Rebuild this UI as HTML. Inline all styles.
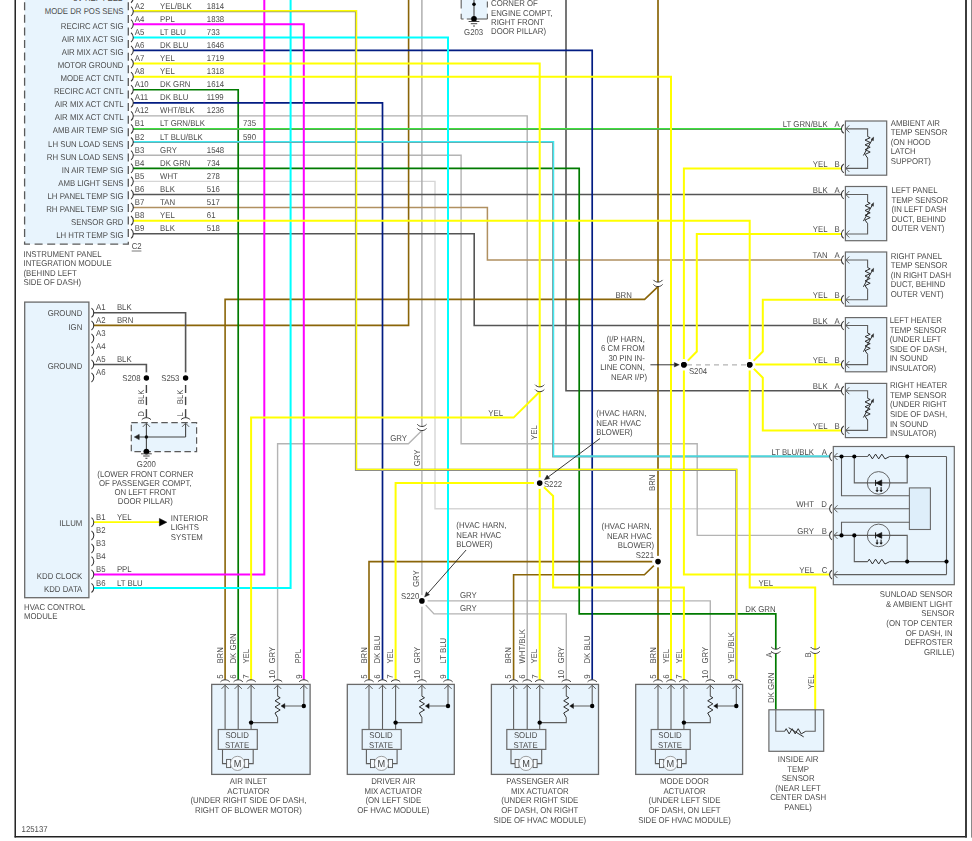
<!DOCTYPE html>
<html><head><meta charset="utf-8"><title>HVAC wiring</title>
<style>
html,body{margin:0;padding:0;background:#fff;}
body{width:972px;height:841px;overflow:hidden;}
svg{display:block;}
text{font-family:"Liberation Sans",sans-serif;}
</style></head>
<body>
<svg width="972" height="841" viewBox="0 0 972 841">
<rect x="0" y="0" width="972" height="841" fill="#fff"/>
<g style="will-change:transform" text-rendering="geometricPrecision">
<line x1="15.2" y1="0" x2="15.2" y2="837.6" stroke="#000" stroke-width="1.3" />
<line x1="14.6" y1="836.8" x2="966.9" y2="836.8" stroke="#222" stroke-width="1.6" />
<line x1="966" y1="0" x2="966" y2="837.6" stroke="#333" stroke-width="1.9" />
<line x1="971.5" y1="0" x2="971.5" y2="837.6" stroke="#8a8a8a" stroke-width="1" />
<rect x="24.6" y="-20" width="103.7" height="264.2" fill="#e8f4fd" stroke="#5a5a5a" stroke-width="1.3" stroke-dasharray="8 4.6"/>
<text transform="translate(123.5,1.27) scale(1,1.09)" text-anchor="end" font-size="7.8" fill="#4a4a4a" >5V REF FEED</text>
<path d="M131,-6.49 C134.07,-4.19 134.07,0.41 131,2.71" fill="none" stroke="#333333" stroke-width="1.05" />
<text transform="translate(123.5,14.06) scale(1,1.09)" text-anchor="end" font-size="7.8" fill="#4a4a4a" >MODE DR POS SENS</text>
<text transform="translate(134.8,8.66) scale(1,1.09)" font-size="7.8" fill="#4a4a4a" >A2</text>
<text transform="translate(160.1,8.66) scale(1,1.09)" font-size="7.8" fill="#4a4a4a" >YEL/BLK</text>
<text transform="translate(206.8,8.66) scale(1,1.09)" font-size="7.8" fill="#4a4a4a" >1814</text>
<text transform="translate(123.5,28.75) scale(1,1.09)" text-anchor="end" font-size="7.8" fill="#4a4a4a" >RECIRC ACT SIG</text>
<text transform="translate(134.8,21.75) scale(1,1.09)" font-size="7.8" fill="#4a4a4a" >A4</text>
<text transform="translate(160.1,21.75) scale(1,1.09)" font-size="7.8" fill="#4a4a4a" >PPL</text>
<text transform="translate(206.8,21.75) scale(1,1.09)" font-size="7.8" fill="#4a4a4a" >1838</text>
<text transform="translate(123.5,41.84) scale(1,1.09)" text-anchor="end" font-size="7.8" fill="#4a4a4a" >AIR MIX ACT SIG</text>
<text transform="translate(134.8,34.84) scale(1,1.09)" font-size="7.8" fill="#4a4a4a" >A5</text>
<text transform="translate(160.1,34.84) scale(1,1.09)" font-size="7.8" fill="#4a4a4a" >LT BLU</text>
<text transform="translate(206.8,34.84) scale(1,1.09)" font-size="7.8" fill="#4a4a4a" >733</text>
<text transform="translate(123.5,54.93) scale(1,1.09)" text-anchor="end" font-size="7.8" fill="#4a4a4a" >AIR MIX ACT SIG</text>
<text transform="translate(134.8,47.93) scale(1,1.09)" font-size="7.8" fill="#4a4a4a" >A6</text>
<text transform="translate(160.1,47.93) scale(1,1.09)" font-size="7.8" fill="#4a4a4a" >DK BLU</text>
<text transform="translate(206.8,47.93) scale(1,1.09)" font-size="7.8" fill="#4a4a4a" >1646</text>
<text transform="translate(123.5,68.02) scale(1,1.09)" text-anchor="end" font-size="7.8" fill="#4a4a4a" >MOTOR GROUND</text>
<text transform="translate(134.8,61.02) scale(1,1.09)" font-size="7.8" fill="#4a4a4a" >A7</text>
<text transform="translate(160.1,61.02) scale(1,1.09)" font-size="7.8" fill="#4a4a4a" >YEL</text>
<text transform="translate(206.8,61.02) scale(1,1.09)" font-size="7.8" fill="#4a4a4a" >1719</text>
<text transform="translate(123.5,81.11) scale(1,1.09)" text-anchor="end" font-size="7.8" fill="#4a4a4a" >MODE ACT CNTL</text>
<text transform="translate(134.8,74.11) scale(1,1.09)" font-size="7.8" fill="#4a4a4a" >A8</text>
<text transform="translate(160.1,74.11) scale(1,1.09)" font-size="7.8" fill="#4a4a4a" >YEL</text>
<text transform="translate(206.8,74.11) scale(1,1.09)" font-size="7.8" fill="#4a4a4a" >1318</text>
<text transform="translate(123.5,94.2) scale(1,1.09)" text-anchor="end" font-size="7.8" fill="#4a4a4a" >RECIRC ACT CNTL</text>
<text transform="translate(134.8,87.2) scale(1,1.09)" font-size="7.8" fill="#4a4a4a" >A10</text>
<text transform="translate(160.1,87.2) scale(1,1.09)" font-size="7.8" fill="#4a4a4a" >DK GRN</text>
<text transform="translate(206.8,87.2) scale(1,1.09)" font-size="7.8" fill="#4a4a4a" >1614</text>
<text transform="translate(123.5,107.29) scale(1,1.09)" text-anchor="end" font-size="7.8" fill="#4a4a4a" >AIR MIX ACT CNTL</text>
<text transform="translate(134.8,100.29) scale(1,1.09)" font-size="7.8" fill="#4a4a4a" >A11</text>
<text transform="translate(160.1,100.29) scale(1,1.09)" font-size="7.8" fill="#4a4a4a" >DK BLU</text>
<text transform="translate(206.8,100.29) scale(1,1.09)" font-size="7.8" fill="#4a4a4a" >1199</text>
<text transform="translate(123.5,120.38) scale(1,1.09)" text-anchor="end" font-size="7.8" fill="#4a4a4a" >AIR MIX ACT CNTL</text>
<text transform="translate(134.8,113.38) scale(1,1.09)" font-size="7.8" fill="#4a4a4a" >A12</text>
<text transform="translate(160.1,113.38) scale(1,1.09)" font-size="7.8" fill="#4a4a4a" >WHT/BLK</text>
<text transform="translate(206.8,113.38) scale(1,1.09)" font-size="7.8" fill="#4a4a4a" >1236</text>
<text transform="translate(123.5,133.47) scale(1,1.09)" text-anchor="end" font-size="7.8" fill="#4a4a4a" >AMB AIR TEMP SIG</text>
<text transform="translate(134.8,126.47) scale(1,1.09)" font-size="7.8" fill="#4a4a4a" >B1</text>
<text transform="translate(160.1,126.47) scale(1,1.09)" font-size="7.8" fill="#4a4a4a" >LT GRN/BLK</text>
<text transform="translate(243,126.47) scale(1,1.09)" font-size="7.8" fill="#4a4a4a" >735</text>
<text transform="translate(123.5,146.56) scale(1,1.09)" text-anchor="end" font-size="7.8" fill="#4a4a4a" >LH SUN LOAD SENS</text>
<text transform="translate(134.8,139.56) scale(1,1.09)" font-size="7.8" fill="#4a4a4a" >B2</text>
<text transform="translate(160.1,139.56) scale(1,1.09)" font-size="7.8" fill="#4a4a4a" >LT BLU/BLK</text>
<text transform="translate(243,139.56) scale(1,1.09)" font-size="7.8" fill="#4a4a4a" >590</text>
<text transform="translate(123.5,159.65) scale(1,1.09)" text-anchor="end" font-size="7.8" fill="#4a4a4a" >RH SUN LOAD SENS</text>
<text transform="translate(134.8,152.65) scale(1,1.09)" font-size="7.8" fill="#4a4a4a" >B3</text>
<text transform="translate(160.1,152.65) scale(1,1.09)" font-size="7.8" fill="#4a4a4a" >GRY</text>
<text transform="translate(206.8,152.65) scale(1,1.09)" font-size="7.8" fill="#4a4a4a" >1548</text>
<text transform="translate(123.5,172.74) scale(1,1.09)" text-anchor="end" font-size="7.8" fill="#4a4a4a" >IN AIR TEMP SIG</text>
<text transform="translate(134.8,165.74) scale(1,1.09)" font-size="7.8" fill="#4a4a4a" >B4</text>
<text transform="translate(160.1,165.74) scale(1,1.09)" font-size="7.8" fill="#4a4a4a" >DK GRN</text>
<text transform="translate(206.8,165.74) scale(1,1.09)" font-size="7.8" fill="#4a4a4a" >734</text>
<text transform="translate(123.5,185.83) scale(1,1.09)" text-anchor="end" font-size="7.8" fill="#4a4a4a" >AMB LIGHT SENS</text>
<text transform="translate(134.8,178.83) scale(1,1.09)" font-size="7.8" fill="#4a4a4a" >B5</text>
<text transform="translate(160.1,178.83) scale(1,1.09)" font-size="7.8" fill="#4a4a4a" >WHT</text>
<text transform="translate(206.8,178.83) scale(1,1.09)" font-size="7.8" fill="#4a4a4a" >278</text>
<text transform="translate(123.5,198.92) scale(1,1.09)" text-anchor="end" font-size="7.8" fill="#4a4a4a" >LH PANEL TEMP SIG</text>
<text transform="translate(134.8,191.92) scale(1,1.09)" font-size="7.8" fill="#4a4a4a" >B6</text>
<text transform="translate(160.1,191.92) scale(1,1.09)" font-size="7.8" fill="#4a4a4a" >BLK</text>
<text transform="translate(206.8,191.92) scale(1,1.09)" font-size="7.8" fill="#4a4a4a" >516</text>
<text transform="translate(123.5,212.01) scale(1,1.09)" text-anchor="end" font-size="7.8" fill="#4a4a4a" >RH PANEL TEMP SIG</text>
<text transform="translate(134.8,205.01) scale(1,1.09)" font-size="7.8" fill="#4a4a4a" >B7</text>
<text transform="translate(160.1,205.01) scale(1,1.09)" font-size="7.8" fill="#4a4a4a" >TAN</text>
<text transform="translate(206.8,205.01) scale(1,1.09)" font-size="7.8" fill="#4a4a4a" >517</text>
<text transform="translate(123.5,225.1) scale(1,1.09)" text-anchor="end" font-size="7.8" fill="#4a4a4a" >SENSOR GRD</text>
<text transform="translate(134.8,218.1) scale(1,1.09)" font-size="7.8" fill="#4a4a4a" >B8</text>
<text transform="translate(160.1,218.1) scale(1,1.09)" font-size="7.8" fill="#4a4a4a" >YEL</text>
<text transform="translate(206.8,218.1) scale(1,1.09)" font-size="7.8" fill="#4a4a4a" >61</text>
<text transform="translate(123.5,238.19) scale(1,1.09)" text-anchor="end" font-size="7.8" fill="#4a4a4a" >LH HTR TEMP SIG</text>
<text transform="translate(134.8,231.19) scale(1,1.09)" font-size="7.8" fill="#4a4a4a" >B9</text>
<text transform="translate(160.1,231.19) scale(1,1.09)" font-size="7.8" fill="#4a4a4a" >BLK</text>
<text transform="translate(206.8,231.19) scale(1,1.09)" font-size="7.8" fill="#4a4a4a" >518</text>
<text transform="translate(23.5,256.51) scale(1,1.09)" font-size="7.8" fill="#4a4a4a" >INSTRUMENT PANEL</text>
<text transform="translate(23.5,266.11) scale(1,1.09)" font-size="7.8" fill="#4a4a4a" >INTEGRATION MODULE</text>
<text transform="translate(23.5,275.71) scale(1,1.09)" font-size="7.8" fill="#4a4a4a" >(BEHIND LEFT</text>
<text transform="translate(23.5,285.31) scale(1,1.09)" font-size="7.8" fill="#4a4a4a" >SIDE OF DASH)</text>
<text transform="translate(131.7,249.16) scale(1,1.09)" font-size="7.8" fill="#4a4a4a" >C2</text>
<line x1="131.7" y1="251" x2="141.4" y2="251" stroke="#555" stroke-width="0.8" />
<rect x="24.7" y="302.1" width="64.2" height="295.6" fill="#e8f4fd" stroke="#6a6a6a" stroke-width="1.3" />
<text transform="translate(96,310.36) scale(1,1.09)" font-size="7.8" fill="#4a4a4a" >A1</text>
<text transform="translate(96,323.06) scale(1,1.09)" font-size="7.8" fill="#4a4a4a" >A2</text>
<text transform="translate(96,336.06) scale(1,1.09)" font-size="7.8" fill="#4a4a4a" >A3</text>
<text transform="translate(96,348.86) scale(1,1.09)" font-size="7.8" fill="#4a4a4a" >A4</text>
<text transform="translate(96,362.16) scale(1,1.09)" font-size="7.8" fill="#4a4a4a" >A5</text>
<text transform="translate(96,375.06) scale(1,1.09)" font-size="7.8" fill="#4a4a4a" >A6</text>
<text transform="translate(96,519.86) scale(1,1.09)" font-size="7.8" fill="#4a4a4a" >B1</text>
<text transform="translate(96,533.06) scale(1,1.09)" font-size="7.8" fill="#4a4a4a" >B2</text>
<text transform="translate(96,546.06) scale(1,1.09)" font-size="7.8" fill="#4a4a4a" >B3</text>
<text transform="translate(96,558.86) scale(1,1.09)" font-size="7.8" fill="#4a4a4a" >B4</text>
<text transform="translate(96,572.16) scale(1,1.09)" font-size="7.8" fill="#4a4a4a" >B5</text>
<text transform="translate(96,585.56) scale(1,1.09)" font-size="7.8" fill="#4a4a4a" >B6</text>
<text transform="translate(82.3,315.96) scale(1,1.09)" text-anchor="end" font-size="7.8" fill="#4a4a4a" >GROUND</text>
<text transform="translate(82.3,329.66) scale(1,1.09)" text-anchor="end" font-size="7.8" fill="#4a4a4a" >IGN</text>
<text transform="translate(82.3,368.76) scale(1,1.09)" text-anchor="end" font-size="7.8" fill="#4a4a4a" >GROUND</text>
<text transform="translate(82.3,526.46) scale(1,1.09)" text-anchor="end" font-size="7.8" fill="#4a4a4a" >ILLUM</text>
<text transform="translate(82.3,578.76) scale(1,1.09)" text-anchor="end" font-size="7.8" fill="#4a4a4a" >KDD CLOCK</text>
<text transform="translate(82.3,592.16) scale(1,1.09)" text-anchor="end" font-size="7.8" fill="#4a4a4a" >KDD DATA</text>
<text transform="translate(116.9,310.36) scale(1,1.09)" font-size="7.8" fill="#4a4a4a" >BLK</text>
<text transform="translate(116.9,323.06) scale(1,1.09)" font-size="7.8" fill="#4a4a4a" >BRN</text>
<text transform="translate(116.9,362.16) scale(1,1.09)" font-size="7.8" fill="#4a4a4a" >BLK</text>
<text transform="translate(116.9,519.86) scale(1,1.09)" font-size="7.8" fill="#4a4a4a" >YEL</text>
<text transform="translate(116.9,572.16) scale(1,1.09)" font-size="7.8" fill="#4a4a4a" >PPL</text>
<text transform="translate(116.9,585.56) scale(1,1.09)" font-size="7.8" fill="#4a4a4a" >LT BLU</text>
<text transform="translate(24,609.51) scale(1,1.09)" font-size="7.8" fill="#4a4a4a" >HVAC CONTROL</text>
<text transform="translate(24,618.91) scale(1,1.09)" font-size="7.8" fill="#4a4a4a" >MODULE</text>
<rect x="461.2" y="-20" width="26.2" height="39" fill="#e8f4fd" stroke="none" stroke-width="0" />
<line x1="461.2" y1="0" x2="461.2" y2="8.6" stroke="#6a6a6a" stroke-width="1.2" />
<line x1="461.2" y1="13.8" x2="461.2" y2="19" stroke="#6a6a6a" stroke-width="1.2" />
<line x1="461.2" y1="19" x2="463.6" y2="19" stroke="#6a6a6a" stroke-width="1.2" />
<line x1="466.8" y1="19" x2="471" y2="19" stroke="#6a6a6a" stroke-width="1.2" />
<line x1="477" y1="19" x2="487.4" y2="19" stroke="#6a6a6a" stroke-width="1.2" />
<line x1="487.4" y1="19" x2="487.4" y2="13.8" stroke="#6a6a6a" stroke-width="1.2" />
<line x1="487.4" y1="7.6" x2="487.4" y2="1.4" stroke="#6a6a6a" stroke-width="1.2" />
<line x1="474" y1="0" x2="474" y2="18.8" stroke="#444" stroke-width="1.1" />
<circle cx="474" cy="4.3" r="1.8" fill="#000"/>
<circle cx="474" cy="18.8" r="2.9" fill="#000"/>
<line x1="468.6" y1="21.5" x2="479.4" y2="21.5" stroke="#333333" stroke-width="0.9" />
<line x1="470.8" y1="23.7" x2="477.2" y2="23.7" stroke="#333333" stroke-width="0.9" />
<line x1="473" y1="26" x2="475" y2="26" stroke="#333333" stroke-width="0.9" />
<text transform="translate(473.6,34.96) scale(1,1.09)" text-anchor="middle" font-size="7.8" fill="#4a4a4a" >G203</text>
<text transform="translate(491,6.21) scale(1,1.09)" font-size="7.8" fill="#4a4a4a" >CORNER OF</text>
<text transform="translate(491,15.51) scale(1,1.09)" font-size="7.8" fill="#4a4a4a" >ENGINE COMPT,</text>
<text transform="translate(491,24.81) scale(1,1.09)" font-size="7.8" fill="#4a4a4a" >RIGHT FRONT</text>
<text transform="translate(491,34.11) scale(1,1.09)" font-size="7.8" fill="#4a4a4a" >DOOR PILLAR)</text>
<polyline points="133,181.37 435,181.37 435,508.8 829.6,508.8" fill="none" stroke="#d6d6d6" stroke-width="1.4" stroke-linejoin="miter" stroke-linecap="butt" />
<polyline points="133,155.19 461.1,155.19 461.1,443.7 697.2,443.7 697.2,535.4 829.6,535.4" fill="none" stroke="#b4b4b4" stroke-width="1.4" stroke-linejoin="miter" stroke-linecap="butt" />
<polyline points="421.9,0 421.9,426.5" fill="none" stroke="#a9a9a9" stroke-width="1.4" stroke-linejoin="miter" stroke-linecap="butt" />
<polyline points="421.9,430.6 421.9,679.7" fill="none" stroke="#b4b4b4" stroke-width="1.4" stroke-linejoin="miter" stroke-linecap="butt" />
<polyline points="421.9,430.6 408.4,443.7 277.6,443.7 277.6,679.7" fill="none" stroke="#b4b4b4" stroke-width="1.4" stroke-linejoin="miter" stroke-linecap="butt" />
<polyline points="421.9,600.9 710.3,600.9 710.3,679.7" fill="none" stroke="#b4b4b4" stroke-width="1.4" stroke-linejoin="miter" stroke-linecap="butt" />
<polyline points="421.9,600.9 434,613.9 566.3,613.9 566.3,679.7" fill="none" stroke="#b4b4b4" stroke-width="1.4" stroke-linejoin="miter" stroke-linecap="butt" />
<polyline points="133,115.92 527.2,115.92 527.2,679.7" fill="none" stroke="#b0b0b0" stroke-width="1.4" stroke-linejoin="miter" stroke-linecap="butt" />
<polyline points="133,194.46 841.4,194.46" fill="none" stroke="#555555" stroke-width="1.6" stroke-linejoin="miter" stroke-linecap="butt" />
<polyline points="133,233.73 474.2,233.73 474.2,325.5 841.4,325.5" fill="none" stroke="#555555" stroke-width="1.6" stroke-linejoin="miter" stroke-linecap="butt" />
<polyline points="566,0 566,390.7 841.4,390.7" fill="none" stroke="#555555" stroke-width="1.6" stroke-linejoin="miter" stroke-linecap="butt" />
<polyline points="133,207.55 487.4,207.55 487.4,260 841.4,260" fill="none" stroke="#b09060" stroke-width="1.5" stroke-linejoin="miter" stroke-linecap="butt" />
<polyline points="93.5,325.4 408.6,325.4 408.6,0" fill="none" stroke="#8a6508" stroke-width="1.6" stroke-linejoin="miter" stroke-linecap="butt" />
<polyline points="658,0 658,282.1" fill="none" stroke="#8a6508" stroke-width="1.7" stroke-linejoin="miter" stroke-linecap="butt" />
<polyline points="658,286.6 658,679.7" fill="none" stroke="#8a6508" stroke-width="1.7" stroke-linejoin="miter" stroke-linecap="butt" />
<polyline points="658,286.6 644.6,299.4 225.1,299.4 225.1,679.7" fill="none" stroke="#8a6508" stroke-width="1.6" stroke-linejoin="miter" stroke-linecap="butt" />
<polyline points="658,561.6 369,561.6 369,679.7" fill="none" stroke="#8a6508" stroke-width="1.6" stroke-linejoin="miter" stroke-linecap="butt" />
<polyline points="658,561.6 644.4,574.8 513.6,574.8 513.6,679.7" fill="none" stroke="#8a6508" stroke-width="1.6" stroke-linejoin="miter" stroke-linecap="butt" />
<polyline points="133,89.74 238.2,89.74 238.2,679.7" fill="none" stroke="#007a00" stroke-width="1.7" stroke-linejoin="miter" stroke-linecap="butt" />
<polyline points="133,168.28 579.2,168.28 579.2,613.8 775.8,613.8 775.8,649.2" fill="none" stroke="#007a00" stroke-width="1.7" stroke-linejoin="miter" stroke-linecap="butt" />
<polyline points="775.8,653.5 775.8,709.8" fill="none" stroke="#007a00" stroke-width="1.7" stroke-linejoin="miter" stroke-linecap="butt" />
<polyline points="133,129.01 841.4,129.01" fill="none" stroke="#5f8f5f" stroke-width="2"/>
<polyline points="133,129.01 841.4,129.01" fill="none" stroke="#3ee03e" stroke-width="1.2" transform="translate(0.45,-0.45)"/>
<polyline points="133,50.47 592.2,50.47 592.2,679.7" fill="none" stroke="#021c82" stroke-width="1.7" stroke-linejoin="miter" stroke-linecap="butt" />
<polyline points="133,102.83 382.5,102.83 382.5,679.7" fill="none" stroke="#021c82" stroke-width="1.7" stroke-linejoin="miter" stroke-linecap="butt" />
<polyline points="133,37.38 448,37.38 448,679.7" fill="none" stroke="#00ffff" stroke-width="2" stroke-linejoin="miter" stroke-linecap="butt" />
<polyline points="93.5,587.9 290.6,587.9 290.6,0" fill="none" stroke="#00ffff" stroke-width="2" stroke-linejoin="miter" stroke-linecap="butt" />
<polyline points="133,142.1 553.1,142.1 553.1,456.5 829.6,456.5" fill="none" stroke="#6f9fa3" stroke-width="2"/>
<polyline points="133,142.1 553.1,142.1 553.1,456.5 829.6,456.5" fill="none" stroke="#40e8f0" stroke-width="1.2" transform="translate(0.45,-0.45)"/>
<polyline points="133,24.29 303.8,24.29 303.8,679.7" fill="none" stroke="#ff00ff" stroke-width="2" stroke-linejoin="miter" stroke-linecap="butt" />
<polyline points="93.5,574.5 264.3,574.5 264.3,0" fill="none" stroke="#ff00ff" stroke-width="2" stroke-linejoin="miter" stroke-linecap="butt" />
<polyline points="133,76.65 671,76.65 671,679.7" fill="none" stroke="#ffff00" stroke-width="2" stroke-linejoin="miter" stroke-linecap="butt" />
<polyline points="133,63.56 539.7,63.56 539.7,386.9" fill="none" stroke="#ffff00" stroke-width="2" stroke-linejoin="miter" stroke-linecap="butt" />
<polyline points="539.7,391.7 539.7,679.7" fill="none" stroke="#ffff00" stroke-width="2" stroke-linejoin="miter" stroke-linecap="butt" />
<polyline points="539.7,391.7 513.6,417.6 251.1,417.6 251.1,679.7" fill="none" stroke="#ffff00" stroke-width="2" stroke-linejoin="miter" stroke-linecap="butt" />
<polyline points="539.7,483.1 395.6,483.1 395.6,679.7" fill="none" stroke="#ffff00" stroke-width="2" stroke-linejoin="miter" stroke-linecap="butt" />
<polyline points="539.7,483.1 553.1,496 553.1,587.6 683.9,587.6 683.9,679.7" fill="none" stroke="#ffff00" stroke-width="2" stroke-linejoin="miter" stroke-linecap="butt" />
<polyline points="133,220.64 749.7,220.64 749.7,587.6 815.2,587.6 815.2,649.2" fill="none" stroke="#ffff00" stroke-width="2" stroke-linejoin="miter" stroke-linecap="butt" />
<polyline points="815.2,653.5 815.2,709.8" fill="none" stroke="#ffff00" stroke-width="2" stroke-linejoin="miter" stroke-linecap="butt" />
<polyline points="841.4,168.4 683.9,168.4 683.9,574.6 829.6,574.6" fill="none" stroke="#ffff00" stroke-width="2" stroke-linejoin="miter" stroke-linecap="butt" />
<polyline points="841.4,234 696.8,234 696.8,351.5 683.9,364.6" fill="none" stroke="#ffff00" stroke-width="2" stroke-linejoin="miter" stroke-linecap="butt" />
<polyline points="841.4,299.7 762.8,299.7 762.8,351.5 749.7,364.6" fill="none" stroke="#ffff00" stroke-width="2" stroke-linejoin="miter" stroke-linecap="butt" />
<polyline points="841.4,364.6 749.7,364.6" fill="none" stroke="#ffff00" stroke-width="2" stroke-linejoin="miter" stroke-linecap="butt" />
<polyline points="841.4,430.4 762.8,430.4 762.8,377.7 749.7,364.6" fill="none" stroke="#ffff00" stroke-width="2" stroke-linejoin="miter" stroke-linecap="butt" />
<polyline points="133,11.2 356,11.2 356,469.8 736.3,469.8 736.3,679.7" fill="none" stroke="#8e8e84" stroke-width="2.2"/>
<polyline points="133,11.2 356,11.2 356,469.8 736.3,469.8 736.3,679.7" fill="none" stroke="#ffff00" stroke-width="1.4" transform="translate(0.45,-0.45)"/>
<circle cx="683.9" cy="364.8" r="5.8" fill="#fff"/>
<circle cx="683.9" cy="364.8" r="2.8" fill="#000"/>
<circle cx="749.7" cy="364.8" r="5.8" fill="#fff"/>
<circle cx="749.7" cy="364.8" r="2.8" fill="#000"/>
<line x1="687" y1="364.8" x2="746.5" y2="364.8" stroke="#b4b4b4" stroke-width="1.3" stroke-dasharray="5 4"/>
<circle cx="683.9" cy="364.8" r="2.8" fill="#000"/>
<circle cx="749.7" cy="364.8" r="2.8" fill="#000"/>
<circle cx="539.7" cy="483.1" r="5.8" fill="#fff"/>
<circle cx="539.7" cy="483.1" r="2.8" fill="#000"/>
<circle cx="658" cy="561.6" r="5.8" fill="#fff"/>
<circle cx="658" cy="561.6" r="2.8" fill="#000"/>
<circle cx="421.9" cy="600.9" r="5.8" fill="#fff"/>
<circle cx="421.9" cy="600.9" r="2.8" fill="#000"/>
<path d="M653.4,279.9 C655.7,282.83 660.3,282.83 662.6,279.9" fill="none" stroke="#333333" stroke-width="1" />
<path d="M653.4,284.4 C655.7,287.33 660.3,287.33 662.6,284.4" fill="none" stroke="#333333" stroke-width="1" />
<path d="M535.1,384.7 C537.4,387.63 542,387.63 544.3,384.7" fill="none" stroke="#333333" stroke-width="1" />
<path d="M535.1,389.5 C537.4,392.43 542,392.43 544.3,389.5" fill="none" stroke="#333333" stroke-width="1" />
<path d="M417.3,424.3 C419.6,427.23 424.2,427.23 426.5,424.3" fill="none" stroke="#333333" stroke-width="1" />
<path d="M417.3,428.4 C419.6,431.33 424.2,431.33 426.5,428.4" fill="none" stroke="#333333" stroke-width="1" />
<text transform="translate(615.4,298.16) scale(1,1.09)" font-size="7.8" fill="#4a4a4a" >BRN</text>
<text transform="translate(488.3,416.06) scale(1,1.09)" font-size="7.8" fill="#4a4a4a" >YEL</text>
<text transform="translate(390.2,440.96) scale(1,1.09)" font-size="7.8" fill="#4a4a4a" >GRY</text>
<text transform="translate(419.61,466.2) rotate(-90) scale(1,1.09)" font-size="7.8" fill="#4a4a4a">GRY</text>
<text transform="translate(537.41,440) rotate(-90) scale(1,1.09)" font-size="7.8" fill="#4a4a4a">YEL</text>
<text transform="translate(655.41,491) rotate(-90) scale(1,1.09)" font-size="7.8" fill="#4a4a4a">BRN</text>
<text transform="translate(419.21,587) rotate(-90) scale(1,1.09)" font-size="7.8" fill="#4a4a4a">GRY</text>
<text transform="translate(460,598.46) scale(1,1.09)" font-size="7.8" fill="#4a4a4a" >GRY</text>
<text transform="translate(460,611.06) scale(1,1.09)" font-size="7.8" fill="#4a4a4a" >GRY</text>
<text transform="translate(419.3,598.56) scale(1,1.09)" text-anchor="end" font-size="7.8" fill="#4a4a4a" >S220</text>
<text transform="translate(543.9,486.96) scale(1,1.09)" font-size="7.8" fill="#4a4a4a" >S222</text>
<text transform="translate(654,558.16) scale(1,1.09)" text-anchor="end" font-size="7.8" fill="#4a4a4a" >S221</text>
<text transform="translate(688.9,374.16) scale(1,1.09)" font-size="7.8" fill="#4a4a4a" >S204</text>
<text transform="translate(758.4,585.86) scale(1,1.09)" font-size="7.8" fill="#4a4a4a" >YEL</text>
<text transform="translate(745.3,612.06) scale(1,1.09)" font-size="7.8" fill="#4a4a4a" >DK GRN</text>
<text transform="translate(651.7,529.11) scale(1,1.09)" text-anchor="end" font-size="7.8" fill="#4a4a4a" >(HVAC HARN,</text>
<text transform="translate(651.9,538.51) scale(1,1.09)" text-anchor="end" font-size="7.8" fill="#4a4a4a" >NEAR HVAC</text>
<text transform="translate(654.2,548.21) scale(1,1.09)" text-anchor="end" font-size="7.8" fill="#4a4a4a" >BLOWER)</text>
<text transform="translate(596.3,416.21) scale(1,1.09)" font-size="7.8" fill="#4a4a4a" >(HVAC HARN,</text>
<text transform="translate(596.3,425.71) scale(1,1.09)" font-size="7.8" fill="#4a4a4a" >NEAR HVAC</text>
<text transform="translate(596.3,435.21) scale(1,1.09)" font-size="7.8" fill="#4a4a4a" >BLOWER)</text>
<text transform="translate(456.3,528.11) scale(1,1.09)" font-size="7.8" fill="#4a4a4a" >(HVAC HARN,</text>
<text transform="translate(456.3,537.61) scale(1,1.09)" font-size="7.8" fill="#4a4a4a" >NEAR HVAC</text>
<text transform="translate(456.3,547.11) scale(1,1.09)" font-size="7.8" fill="#4a4a4a" >BLOWER)</text>
<text transform="translate(644.8,341.51) scale(1,1.09)" text-anchor="end" font-size="7.8" fill="#4a4a4a" >(I/P HARN,</text>
<text transform="translate(644.8,351.01) scale(1,1.09)" text-anchor="end" font-size="7.8" fill="#4a4a4a" >6 CM FROM</text>
<text transform="translate(644.8,360.51) scale(1,1.09)" text-anchor="end" font-size="7.8" fill="#4a4a4a" >30 PIN IN-</text>
<text transform="translate(644.8,370.01) scale(1,1.09)" text-anchor="end" font-size="7.8" fill="#4a4a4a" >LINE CONN,</text>
<text transform="translate(647,379.51) scale(1,1.09)" text-anchor="end" font-size="7.8" fill="#4a4a4a" >NEAR I/P)</text>
<line x1="650.4" y1="364.8" x2="674.3" y2="364.8" stroke="#222" stroke-width="0.9" />
<path d="M679.3,364.8 L674.3,367 L674.3,362.6 Z" fill="#222" stroke="#222" stroke-width="0.4" />
<line x1="600" y1="438.5" x2="548.41" y2="476.82" stroke="#222" stroke-width="0.9" />
<path d="M544.4,479.8 L547.1,475.05 L549.73,478.58 Z" fill="#222" stroke="#222" stroke-width="0.4" />
<line x1="466.1" y1="550" x2="427.91" y2="593.25" stroke="#222" stroke-width="0.9" />
<path d="M424.6,597 L426.26,591.8 L429.56,594.71 Z" fill="#222" stroke="#222" stroke-width="0.4" />
<polyline points="93.5,312.7 185.6,312.7 185.6,378" fill="none" stroke="#555555" stroke-width="1.6" stroke-linejoin="miter" stroke-linecap="butt" />
<polyline points="93.5,364.5 146.4,364.5 146.4,378" fill="none" stroke="#555555" stroke-width="1.6" stroke-linejoin="miter" stroke-linecap="butt" />
<line x1="146.4" y1="385" x2="146.4" y2="393" stroke="#444" stroke-width="1.4" />
<line x1="146.4" y1="396.8" x2="146.4" y2="405.1" stroke="#444" stroke-width="1.4" />
<line x1="146.4" y1="409.1" x2="146.4" y2="417.7" stroke="#444" stroke-width="1.4" />
<circle cx="146.4" cy="378" r="5.7" fill="#fff"/>
<circle cx="146.4" cy="378" r="2.7" fill="#000"/>
<path d="M141.8,419.7 C144.1,417.03 148.7,417.03 151,419.7" fill="none" stroke="#333333" stroke-width="1" />
<line x1="185.6" y1="385" x2="185.6" y2="393" stroke="#444" stroke-width="1.4" />
<line x1="185.6" y1="396.8" x2="185.6" y2="405.1" stroke="#444" stroke-width="1.4" />
<line x1="185.6" y1="409.1" x2="185.6" y2="417.7" stroke="#444" stroke-width="1.4" />
<circle cx="185.6" cy="378" r="5.7" fill="#fff"/>
<circle cx="185.6" cy="378" r="2.7" fill="#000"/>
<path d="M181,419.7 C183.3,417.03 187.9,417.03 190.2,419.7" fill="none" stroke="#333333" stroke-width="1" />
<text transform="translate(140.5,381.16) scale(1,1.09)" text-anchor="end" font-size="7.8" fill="#4a4a4a" >S208</text>
<text transform="translate(179.4,381.16) scale(1,1.09)" text-anchor="end" font-size="7.8" fill="#4a4a4a" >S253</text>
<text transform="translate(143.51,404.2) rotate(-90) scale(1,1.09)" font-size="7.8" fill="#4a4a4a">BLK</text>
<text transform="translate(182.91,404.2) rotate(-90) scale(1,1.09)" font-size="7.8" fill="#4a4a4a">BLK</text>
<text transform="translate(143.91,416.8) rotate(-90) scale(1,1.09)" font-size="7.8" fill="#4a4a4a">D</text>
<text transform="translate(183.11,416.6) rotate(-90) scale(1,1.09)" font-size="7.8" fill="#4a4a4a">L</text>
<rect x="131.3" y="422.6" width="65.3" height="29" fill="#e8f4fd" stroke="#5a5a5a" stroke-width="1.2" stroke-dasharray="6.5 3.5"/>
<path d="M142.8,426.9 L146.4,423.2 L150,426.9" fill="none" stroke="#5e5e5e" stroke-width="1" />
<path d="M182,426.9 L185.6,423.2 L189.2,426.9" fill="none" stroke="#5e5e5e" stroke-width="1" />
<line x1="146.4" y1="423.6" x2="146.4" y2="451.6" stroke="#444" stroke-width="1.1" />
<line x1="185.6" y1="423.6" x2="185.6" y2="437" stroke="#444" stroke-width="1.1" />
<line x1="138" y1="437" x2="185.6" y2="437" stroke="#444" stroke-width="1.1" />
<path d="M134.4,437 L139.2,434.4 L139.2,439.6 Z" fill="#222" stroke="#222" stroke-width="0.6" />
<circle cx="146.4" cy="437" r="1.7" fill="#111"/>
<circle cx="146.4" cy="451.6" r="2.9" fill="#000"/>
<line x1="141" y1="453.8" x2="151.8" y2="453.8" stroke="#333333" stroke-width="0.9" />
<line x1="143.2" y1="456" x2="149.6" y2="456" stroke="#333333" stroke-width="0.9" />
<line x1="145.4" y1="458.3" x2="147.4" y2="458.3" stroke="#333333" stroke-width="0.9" />
<text transform="translate(146.4,467.16) scale(1,1.09)" text-anchor="middle" font-size="7.8" fill="#4a4a4a" >G200</text>
<text transform="translate(145.3,477.11) scale(1,1.09)" text-anchor="middle" font-size="7.8" fill="#4a4a4a" >(LOWER FRONT CORNER</text>
<text transform="translate(145.3,486.21) scale(1,1.09)" text-anchor="middle" font-size="7.8" fill="#4a4a4a" >OF PASSENGER COMPT,</text>
<text transform="translate(145.3,495.31) scale(1,1.09)" text-anchor="middle" font-size="7.8" fill="#4a4a4a" >ON LEFT FRONT</text>
<text transform="translate(145.3,504.41) scale(1,1.09)" text-anchor="middle" font-size="7.8" fill="#4a4a4a" >DOOR PILLAR)</text>
<polyline points="93.5,522.2 160,522.2" fill="none" stroke="#ffff00" stroke-width="1.8" stroke-linejoin="miter" stroke-linecap="butt" />
<path d="M159.4,518.4 L166.8,522.2 L159.4,526 Z" fill="#000" stroke="#000" stroke-width="0.5" />
<text transform="translate(170.8,520.61) scale(1,1.09)" font-size="7.8" fill="#4a4a4a" >INTERIOR</text>
<text transform="translate(170.8,530.11) scale(1,1.09)" font-size="7.8" fill="#4a4a4a" >LIGHTS</text>
<text transform="translate(170.8,539.61) scale(1,1.09)" font-size="7.8" fill="#4a4a4a" >SYSTEM</text>
<path d="M131,6.6 C134.07,8.9 134.07,13.5 131,15.8" fill="none" stroke="#333333" stroke-width="1.05" />
<path d="M131,19.69 C134.07,21.99 134.07,26.59 131,28.89" fill="none" stroke="#333333" stroke-width="1.05" />
<path d="M131,32.78 C134.07,35.08 134.07,39.68 131,41.98" fill="none" stroke="#333333" stroke-width="1.05" />
<path d="M131,45.87 C134.07,48.17 134.07,52.77 131,55.07" fill="none" stroke="#333333" stroke-width="1.05" />
<path d="M131,58.96 C134.07,61.26 134.07,65.86 131,68.16" fill="none" stroke="#333333" stroke-width="1.05" />
<path d="M131,72.05 C134.07,74.35 134.07,78.95 131,81.25" fill="none" stroke="#333333" stroke-width="1.05" />
<path d="M131,85.14 C134.07,87.44 134.07,92.04 131,94.34" fill="none" stroke="#333333" stroke-width="1.05" />
<path d="M131,98.23 C134.07,100.53 134.07,105.13 131,107.43" fill="none" stroke="#333333" stroke-width="1.05" />
<path d="M131,111.32 C134.07,113.62 134.07,118.22 131,120.52" fill="none" stroke="#333333" stroke-width="1.05" />
<path d="M131,124.41 C134.07,126.71 134.07,131.31 131,133.61" fill="none" stroke="#333333" stroke-width="1.05" />
<path d="M131,137.5 C134.07,139.8 134.07,144.4 131,146.7" fill="none" stroke="#333333" stroke-width="1.05" />
<path d="M131,150.59 C134.07,152.89 134.07,157.49 131,159.79" fill="none" stroke="#333333" stroke-width="1.05" />
<path d="M131,163.68 C134.07,165.98 134.07,170.58 131,172.88" fill="none" stroke="#333333" stroke-width="1.05" />
<path d="M131,176.77 C134.07,179.07 134.07,183.67 131,185.97" fill="none" stroke="#333333" stroke-width="1.05" />
<path d="M131,189.86 C134.07,192.16 134.07,196.76 131,199.06" fill="none" stroke="#333333" stroke-width="1.05" />
<path d="M131,202.95 C134.07,205.25 134.07,209.85 131,212.15" fill="none" stroke="#333333" stroke-width="1.05" />
<path d="M131,216.04 C134.07,218.34 134.07,222.94 131,225.24" fill="none" stroke="#333333" stroke-width="1.05" />
<path d="M131,229.13 C134.07,231.43 134.07,236.03 131,238.33" fill="none" stroke="#333333" stroke-width="1.05" />
<path d="M91.5,308.1 C94.57,310.4 94.57,315 91.5,317.3" fill="none" stroke="#333333" stroke-width="1.05" />
<path d="M91.5,320.8 C94.57,323.1 94.57,327.7 91.5,330" fill="none" stroke="#333333" stroke-width="1.05" />
<path d="M91.5,333.8 C94.57,336.1 94.57,340.7 91.5,343" fill="none" stroke="#333333" stroke-width="1.05" />
<path d="M91.5,346.6 C94.57,348.9 94.57,353.5 91.5,355.8" fill="none" stroke="#333333" stroke-width="1.05" />
<path d="M91.5,359.9 C94.57,362.2 94.57,366.8 91.5,369.1" fill="none" stroke="#333333" stroke-width="1.05" />
<path d="M91.5,372.8 C94.57,375.1 94.57,379.7 91.5,382" fill="none" stroke="#333333" stroke-width="1.05" />
<path d="M91.5,517.6 C94.57,519.9 94.57,524.5 91.5,526.8" fill="none" stroke="#333333" stroke-width="1.05" />
<path d="M91.5,530.8 C94.57,533.1 94.57,537.7 91.5,540" fill="none" stroke="#333333" stroke-width="1.05" />
<path d="M91.5,543.8 C94.57,546.1 94.57,550.7 91.5,553" fill="none" stroke="#333333" stroke-width="1.05" />
<path d="M91.5,556.6 C94.57,558.9 94.57,563.5 91.5,565.8" fill="none" stroke="#333333" stroke-width="1.05" />
<path d="M91.5,569.9 C94.57,572.2 94.57,576.8 91.5,579.1" fill="none" stroke="#333333" stroke-width="1.05" />
<path d="M91.5,583.3 C94.57,585.6 94.57,590.2 91.5,592.5" fill="none" stroke="#333333" stroke-width="1.05" />
<rect x="845.4" y="121" width="41.3" height="54.2" fill="#e8f4fd" stroke="#6a6a6a" stroke-width="1.2" />
<path d="M843.7,124.5 C840.63,126.7 840.63,131.1 843.7,133.3" fill="none" stroke="#333333" stroke-width="1.05" />
<path d="M849.3,125.4 L845.8,128.9 L849.3,132.4" fill="none" stroke="#5e5e5e" stroke-width="1" />
<path d="M843.7,164 C840.63,166.2 840.63,170.6 843.7,172.8" fill="none" stroke="#333333" stroke-width="1.05" />
<path d="M849.3,164.9 L845.8,168.4 L849.3,171.9" fill="none" stroke="#5e5e5e" stroke-width="1" />
<path d="M845.8,128.9 L867.6,128.9 L867.6,136.5" fill="none" stroke="#5e5e5e" stroke-width="1.1" />
<path d="M845.8,168.4 L867.6,168.4 L867.6,158" fill="none" stroke="#5e5e5e" stroke-width="1.1" />
<path d="M867.6,136.5 L870.2,137.69 L865,140.08 L870.2,142.47 L865,144.86 L870.2,147.25 L865,149.64 L870.2,152.03 L865,154.42 L867.6,158" fill="none" stroke="#2e2e2e" stroke-width="1" />
<line x1="863.4" y1="155.5" x2="872.8" y2="138.5" stroke="#2e2e2e" stroke-width="1" />
<path d="M873.6,137.1 L871,139.5 L873.4,140.7 Z" fill="#2e2e2e" stroke="#2e2e2e" stroke-width="0.5" />
<text transform="translate(827.6,127.36) scale(1,1.09)" text-anchor="end" font-size="7.8" fill="#4a4a4a" >LT GRN/BLK</text>
<text transform="translate(834.5,127.36) scale(1,1.09)" font-size="7.8" fill="#4a4a4a" >A</text>
<text transform="translate(827.6,166.86) scale(1,1.09)" text-anchor="end" font-size="7.8" fill="#4a4a4a" >YEL</text>
<text transform="translate(834.5,166.86) scale(1,1.09)" font-size="7.8" fill="#4a4a4a" >B</text>
<text transform="translate(890.7,125.51) scale(1,1.09)" font-size="7.8" fill="#4a4a4a" >AMBIENT AIR</text>
<text transform="translate(890.7,135.11) scale(1,1.09)" font-size="7.8" fill="#4a4a4a" >TEMP SENSOR</text>
<text transform="translate(890.7,144.71) scale(1,1.09)" font-size="7.8" fill="#4a4a4a" >(ON HOOD</text>
<text transform="translate(890.7,154.31) scale(1,1.09)" font-size="7.8" fill="#4a4a4a" >LATCH</text>
<text transform="translate(890.7,163.91) scale(1,1.09)" font-size="7.8" fill="#4a4a4a" >SUPPORT)</text>
<rect x="845.4" y="186.5" width="41.3" height="54.2" fill="#e8f4fd" stroke="#6a6a6a" stroke-width="1.2" />
<path d="M843.7,190.1 C840.63,192.3 840.63,196.7 843.7,198.9" fill="none" stroke="#333333" stroke-width="1.05" />
<path d="M849.3,191 L845.8,194.5 L849.3,198" fill="none" stroke="#5e5e5e" stroke-width="1" />
<path d="M843.7,229.6 C840.63,231.8 840.63,236.2 843.7,238.4" fill="none" stroke="#333333" stroke-width="1.05" />
<path d="M849.3,230.5 L845.8,234 L849.3,237.5" fill="none" stroke="#5e5e5e" stroke-width="1" />
<path d="M845.8,194.5 L867.6,194.5 L867.6,202.1" fill="none" stroke="#5e5e5e" stroke-width="1.1" />
<path d="M845.8,234 L867.6,234 L867.6,223.6" fill="none" stroke="#5e5e5e" stroke-width="1.1" />
<path d="M867.6,202.1 L870.2,203.29 L865,205.68 L870.2,208.07 L865,210.46 L870.2,212.85 L865,215.24 L870.2,217.63 L865,220.02 L867.6,223.6" fill="none" stroke="#2e2e2e" stroke-width="1" />
<line x1="863.4" y1="221.1" x2="872.8" y2="204.1" stroke="#2e2e2e" stroke-width="1" />
<path d="M873.6,202.7 L871,205.1 L873.4,206.3 Z" fill="#2e2e2e" stroke="#2e2e2e" stroke-width="0.5" />
<text transform="translate(827.6,192.96) scale(1,1.09)" text-anchor="end" font-size="7.8" fill="#4a4a4a" >BLK</text>
<text transform="translate(834.5,192.96) scale(1,1.09)" font-size="7.8" fill="#4a4a4a" >A</text>
<text transform="translate(827.6,232.46) scale(1,1.09)" text-anchor="end" font-size="7.8" fill="#4a4a4a" >YEL</text>
<text transform="translate(834.5,232.46) scale(1,1.09)" font-size="7.8" fill="#4a4a4a" >B</text>
<text transform="translate(891.4,192.91) scale(1,1.09)" font-size="7.8" fill="#4a4a4a" >LEFT PANEL</text>
<text transform="translate(891.4,202.51) scale(1,1.09)" font-size="7.8" fill="#4a4a4a" >TEMP SENSOR</text>
<text transform="translate(891.4,212.11) scale(1,1.09)" font-size="7.8" fill="#4a4a4a" >(IN LEFT DASH</text>
<text transform="translate(891.4,221.71) scale(1,1.09)" font-size="7.8" fill="#4a4a4a" >DUCT, BEHIND</text>
<text transform="translate(891.4,231.31) scale(1,1.09)" font-size="7.8" fill="#4a4a4a" >OUTER VENT)</text>
<rect x="845.4" y="252" width="41.3" height="54.2" fill="#e8f4fd" stroke="#6a6a6a" stroke-width="1.2" />
<path d="M843.7,255.6 C840.63,257.8 840.63,262.2 843.7,264.4" fill="none" stroke="#333333" stroke-width="1.05" />
<path d="M849.3,256.5 L845.8,260 L849.3,263.5" fill="none" stroke="#5e5e5e" stroke-width="1" />
<path d="M843.7,295.3 C840.63,297.5 840.63,301.9 843.7,304.1" fill="none" stroke="#333333" stroke-width="1.05" />
<path d="M849.3,296.2 L845.8,299.7 L849.3,303.2" fill="none" stroke="#5e5e5e" stroke-width="1" />
<path d="M845.8,260 L867.6,260 L867.6,267.6" fill="none" stroke="#5e5e5e" stroke-width="1.1" />
<path d="M845.8,299.7 L867.6,299.7 L867.6,289.3" fill="none" stroke="#5e5e5e" stroke-width="1.1" />
<path d="M867.6,267.6 L870.2,268.81 L865,271.22 L870.2,273.63 L865,276.04 L870.2,278.45 L865,280.86 L870.2,283.27 L865,285.68 L867.6,289.3" fill="none" stroke="#2e2e2e" stroke-width="1" />
<line x1="863.4" y1="286.8" x2="872.8" y2="269.6" stroke="#2e2e2e" stroke-width="1" />
<path d="M873.6,268.2 L871,270.6 L873.4,271.8 Z" fill="#2e2e2e" stroke="#2e2e2e" stroke-width="0.5" />
<text transform="translate(827.6,258.46) scale(1,1.09)" text-anchor="end" font-size="7.8" fill="#4a4a4a" >TAN</text>
<text transform="translate(834.5,258.46) scale(1,1.09)" font-size="7.8" fill="#4a4a4a" >A</text>
<text transform="translate(827.6,298.16) scale(1,1.09)" text-anchor="end" font-size="7.8" fill="#4a4a4a" >YEL</text>
<text transform="translate(834.5,298.16) scale(1,1.09)" font-size="7.8" fill="#4a4a4a" >B</text>
<text transform="translate(890.7,258.51) scale(1,1.09)" font-size="7.8" fill="#4a4a4a" >RIGHT PANEL</text>
<text transform="translate(890.7,268.11) scale(1,1.09)" font-size="7.8" fill="#4a4a4a" >TEMP SENSOR</text>
<text transform="translate(890.7,277.71) scale(1,1.09)" font-size="7.8" fill="#4a4a4a" >(IN RIGHT DASH</text>
<text transform="translate(890.7,287.31) scale(1,1.09)" font-size="7.8" fill="#4a4a4a" >DUCT, BEHIND</text>
<text transform="translate(890.7,296.91) scale(1,1.09)" font-size="7.8" fill="#4a4a4a" >OUTER VENT)</text>
<rect x="845.4" y="317.6" width="41.3" height="54.2" fill="#e8f4fd" stroke="#6a6a6a" stroke-width="1.2" />
<path d="M843.7,321.1 C840.63,323.3 840.63,327.7 843.7,329.9" fill="none" stroke="#333333" stroke-width="1.05" />
<path d="M849.3,322 L845.8,325.5 L849.3,329" fill="none" stroke="#5e5e5e" stroke-width="1" />
<path d="M843.7,360.2 C840.63,362.4 840.63,366.8 843.7,369" fill="none" stroke="#333333" stroke-width="1.05" />
<path d="M849.3,361.1 L845.8,364.6 L849.3,368.1" fill="none" stroke="#5e5e5e" stroke-width="1" />
<path d="M845.8,325.5 L867.6,325.5 L867.6,333.1" fill="none" stroke="#5e5e5e" stroke-width="1.1" />
<path d="M845.8,364.6 L867.6,364.6 L867.6,354.2" fill="none" stroke="#5e5e5e" stroke-width="1.1" />
<path d="M867.6,333.1 L870.2,334.27 L865,336.62 L870.2,338.96 L865,341.31 L870.2,343.65 L865,345.99 L870.2,348.34 L865,350.68 L867.6,354.2" fill="none" stroke="#2e2e2e" stroke-width="1" />
<line x1="863.4" y1="351.7" x2="872.8" y2="335.1" stroke="#2e2e2e" stroke-width="1" />
<path d="M873.6,333.7 L871,336.1 L873.4,337.3 Z" fill="#2e2e2e" stroke="#2e2e2e" stroke-width="0.5" />
<text transform="translate(827.6,323.96) scale(1,1.09)" text-anchor="end" font-size="7.8" fill="#4a4a4a" >BLK</text>
<text transform="translate(834.5,323.96) scale(1,1.09)" font-size="7.8" fill="#4a4a4a" >A</text>
<text transform="translate(827.6,363.06) scale(1,1.09)" text-anchor="end" font-size="7.8" fill="#4a4a4a" >YEL</text>
<text transform="translate(834.5,363.06) scale(1,1.09)" font-size="7.8" fill="#4a4a4a" >B</text>
<text transform="translate(889.7,322.91) scale(1,1.09)" font-size="7.8" fill="#4a4a4a" >LEFT HEATER</text>
<text transform="translate(889.7,332.51) scale(1,1.09)" font-size="7.8" fill="#4a4a4a" >TEMP SENSOR</text>
<text transform="translate(889.7,342.11) scale(1,1.09)" font-size="7.8" fill="#4a4a4a" >(UNDER LEFT</text>
<text transform="translate(889.7,351.71) scale(1,1.09)" font-size="7.8" fill="#4a4a4a" >SIDE OF DASH,</text>
<text transform="translate(889.7,361.31) scale(1,1.09)" font-size="7.8" fill="#4a4a4a" >IN SOUND</text>
<text transform="translate(889.7,370.91) scale(1,1.09)" font-size="7.8" fill="#4a4a4a" >INSULATOR)</text>
<rect x="845.4" y="383.4" width="41.3" height="54.2" fill="#e8f4fd" stroke="#6a6a6a" stroke-width="1.2" />
<path d="M843.7,386.3 C840.63,388.5 840.63,392.9 843.7,395.1" fill="none" stroke="#333333" stroke-width="1.05" />
<path d="M849.3,387.2 L845.8,390.7 L849.3,394.2" fill="none" stroke="#5e5e5e" stroke-width="1" />
<path d="M843.7,426 C840.63,428.2 840.63,432.6 843.7,434.8" fill="none" stroke="#333333" stroke-width="1.05" />
<path d="M849.3,426.9 L845.8,430.4 L849.3,433.9" fill="none" stroke="#5e5e5e" stroke-width="1" />
<path d="M845.8,390.7 L867.6,390.7 L867.6,398.3" fill="none" stroke="#5e5e5e" stroke-width="1.1" />
<path d="M845.8,430.4 L867.6,430.4 L867.6,420" fill="none" stroke="#5e5e5e" stroke-width="1.1" />
<path d="M867.6,398.3 L870.2,399.51 L865,401.92 L870.2,404.33 L865,406.74 L870.2,409.15 L865,411.56 L870.2,413.97 L865,416.38 L867.6,420" fill="none" stroke="#2e2e2e" stroke-width="1" />
<line x1="863.4" y1="417.5" x2="872.8" y2="400.3" stroke="#2e2e2e" stroke-width="1" />
<path d="M873.6,398.9 L871,401.3 L873.4,402.5 Z" fill="#2e2e2e" stroke="#2e2e2e" stroke-width="0.5" />
<text transform="translate(827.6,389.16) scale(1,1.09)" text-anchor="end" font-size="7.8" fill="#4a4a4a" >BLK</text>
<text transform="translate(834.5,389.16) scale(1,1.09)" font-size="7.8" fill="#4a4a4a" >A</text>
<text transform="translate(827.6,428.86) scale(1,1.09)" text-anchor="end" font-size="7.8" fill="#4a4a4a" >YEL</text>
<text transform="translate(834.5,428.86) scale(1,1.09)" font-size="7.8" fill="#4a4a4a" >B</text>
<text transform="translate(889.9,388.11) scale(1,1.09)" font-size="7.8" fill="#4a4a4a" >RIGHT HEATER</text>
<text transform="translate(889.9,397.71) scale(1,1.09)" font-size="7.8" fill="#4a4a4a" >TEMP SENSOR</text>
<text transform="translate(889.9,407.31) scale(1,1.09)" font-size="7.8" fill="#4a4a4a" >(UNDER RIGHT</text>
<text transform="translate(889.9,416.91) scale(1,1.09)" font-size="7.8" fill="#4a4a4a" >SIDE OF DASH,</text>
<text transform="translate(889.9,426.51) scale(1,1.09)" font-size="7.8" fill="#4a4a4a" >IN SOUND</text>
<text transform="translate(889.9,436.11) scale(1,1.09)" font-size="7.8" fill="#4a4a4a" >INSULATOR)</text>
<rect x="833.3" y="446.5" width="121" height="138.2" fill="#e8f4fd" stroke="#6a6a6a" stroke-width="1.2" />
<path d="M831.9,452.1 C828.83,454.3 828.83,458.7 831.9,460.9" fill="none" stroke="#333333" stroke-width="1.05" />
<path d="M837.5,453 L834,456.5 L837.5,460" fill="none" stroke="#5e5e5e" stroke-width="1" />
<text transform="translate(814,455.06) scale(1,1.09)" text-anchor="end" font-size="7.8" fill="#4a4a4a" >LT BLU/BLK</text>
<text transform="translate(821.8,455.06) scale(1,1.09)" font-size="7.8" fill="#4a4a4a" >A</text>
<path d="M831.9,504.4 C828.83,506.6 828.83,511 831.9,513.2" fill="none" stroke="#333333" stroke-width="1.05" />
<path d="M837.5,505.3 L834,508.8 L837.5,512.3" fill="none" stroke="#5e5e5e" stroke-width="1" />
<text transform="translate(814,507.36) scale(1,1.09)" text-anchor="end" font-size="7.8" fill="#4a4a4a" >WHT</text>
<text transform="translate(821.3,507.36) scale(1,1.09)" font-size="7.8" fill="#4a4a4a" >D</text>
<path d="M831.9,531 C828.83,533.2 828.83,537.6 831.9,539.8" fill="none" stroke="#333333" stroke-width="1.05" />
<path d="M837.5,531.9 L834,535.4 L837.5,538.9" fill="none" stroke="#5e5e5e" stroke-width="1" />
<text transform="translate(814,533.96) scale(1,1.09)" text-anchor="end" font-size="7.8" fill="#4a4a4a" >GRY</text>
<text transform="translate(821.8,533.96) scale(1,1.09)" font-size="7.8" fill="#4a4a4a" >B</text>
<path d="M831.9,570.2 C828.83,572.4 828.83,576.8 831.9,579" fill="none" stroke="#333333" stroke-width="1.05" />
<path d="M837.5,571.1 L834,574.6 L837.5,578.1" fill="none" stroke="#5e5e5e" stroke-width="1" />
<text transform="translate(814,573.16) scale(1,1.09)" text-anchor="end" font-size="7.8" fill="#4a4a4a" >YEL</text>
<text transform="translate(821.8,573.16) scale(1,1.09)" font-size="7.8" fill="#4a4a4a" >C</text>
<line x1="834" y1="456.5" x2="867.7" y2="456.5" stroke="#5e5e5e" stroke-width="1.1" />
<path d="M867.7,456.5 L869.27,454.1 L872.41,458.9 L875.56,454.1 L878.7,458.9 L881.84,454.1 L884.99,458.9 L889.7,456.5" fill="none" stroke="#2e2e2e" stroke-width="1" />
<line x1="889.7" y1="456.5" x2="946.5" y2="456.5" stroke="#5e5e5e" stroke-width="1.1" />
<line x1="946.5" y1="456.5" x2="946.5" y2="574.6" stroke="#5e5e5e" stroke-width="1.1" />
<line x1="834" y1="574.6" x2="946.5" y2="574.6" stroke="#5e5e5e" stroke-width="1.1" />
<path d="M841.5,456.5 L841.5,495.8 L909.4,495.8" fill="none" stroke="#5e5e5e" stroke-width="1.1" />
<path d="M854.3,456.5 L854.3,482.9 L907.2,482.9 L907.2,456.5" fill="none" stroke="#5e5e5e" stroke-width="1.1" />
<circle cx="878.6" cy="482.9" r="11.3" fill="none" stroke="#555" stroke-width="0.9"/>
<path d="M875.6,482.9 L881.8,479.9 L881.8,485.9 Z" fill="#111" stroke="#111" stroke-width="0.5" />
<line x1="875.6" y1="479.9" x2="875.6" y2="485.9" stroke="#111" stroke-width="1" />
<line x1="877.1" y1="487.1" x2="877.1" y2="491.5" stroke="#111" stroke-width="1" />
<path d="M875.8,490.3 L878.4,490.3 L877.1,491.9 Z" fill="#111" stroke="#111" stroke-width="0.4" />
<line x1="881.1" y1="487.1" x2="881.1" y2="491.5" stroke="#111" stroke-width="1" />
<path d="M879.8,490.3 L882.4,490.3 L881.1,491.9 Z" fill="#111" stroke="#111" stroke-width="0.4" />
<rect x="909.4" y="487.9" width="21" height="41.6" fill="#deeefa" stroke="#6a6a6a" stroke-width="1.1" />
<line x1="834" y1="508.8" x2="909.4" y2="508.8" stroke="#5e5e5e" stroke-width="1.1" />
<path d="M909.4,522.3 L841.5,522.3 L841.5,535.4" fill="none" stroke="#5e5e5e" stroke-width="1.1" />
<path d="M834.0,535.4 L907.2,535.4 L907.2,561.6" fill="none" stroke="#5e5e5e" stroke-width="1.1" />
<circle cx="878.6" cy="535.4" r="11.3" fill="none" stroke="#555" stroke-width="0.9"/>
<path d="M875.6,535.4 L881.8,532.4 L881.8,538.4 Z" fill="#111" stroke="#111" stroke-width="0.5" />
<line x1="875.6" y1="532.4" x2="875.6" y2="538.4" stroke="#111" stroke-width="1" />
<line x1="877.1" y1="539.6" x2="877.1" y2="544" stroke="#111" stroke-width="1" />
<path d="M875.8,542.8 L878.4,542.8 L877.1,544.4 Z" fill="#111" stroke="#111" stroke-width="0.4" />
<line x1="881.1" y1="539.6" x2="881.1" y2="544" stroke="#111" stroke-width="1" />
<path d="M879.8,542.8 L882.4,542.8 L881.1,544.4 Z" fill="#111" stroke="#111" stroke-width="0.4" />
<path d="M854.3,535.4 L854.3,561.6 L867.7,561.6" fill="none" stroke="#5e5e5e" stroke-width="1.1" />
<path d="M867.7,561.6 L869.27,559.2 L872.41,564 L875.56,559.2 L878.7,564 L881.84,559.2 L884.99,564 L889.7,561.6" fill="none" stroke="#2e2e2e" stroke-width="1" />
<line x1="889.7" y1="561.6" x2="946.5" y2="561.6" stroke="#5e5e5e" stroke-width="1.1" />
<circle cx="841.5" cy="456.5" r="2.1" fill="#000"/>
<circle cx="854.3" cy="456.5" r="2.1" fill="#000"/>
<circle cx="907.2" cy="456.5" r="2.1" fill="#000"/>
<circle cx="841.5" cy="535.4" r="2.1" fill="#000"/>
<circle cx="854.3" cy="535.4" r="2.1" fill="#000"/>
<circle cx="907.2" cy="561.6" r="2.1" fill="#000"/>
<circle cx="946.5" cy="561.6" r="2.1" fill="#000"/>
<text transform="translate(952.6,597.11) scale(1,1.09)" text-anchor="end" font-size="7.8" fill="#4a4a4a" >SUNLOAD SENSOR</text>
<text transform="translate(952.6,606.71) scale(1,1.09)" text-anchor="end" font-size="7.8" fill="#4a4a4a" >&amp; AMBIENT LIGHT</text>
<text transform="translate(954.3,616.31) scale(1,1.09)" text-anchor="end" font-size="7.8" fill="#4a4a4a" >SENSOR</text>
<text transform="translate(952.6,625.91) scale(1,1.09)" text-anchor="end" font-size="7.8" fill="#4a4a4a" >(ON TOP CENTER</text>
<text transform="translate(952.6,635.51) scale(1,1.09)" text-anchor="end" font-size="7.8" fill="#4a4a4a" >OF DASH, IN</text>
<text transform="translate(952.6,645.11) scale(1,1.09)" text-anchor="end" font-size="7.8" fill="#4a4a4a" >DEFROSTER</text>
<text transform="translate(954.3,654.71) scale(1,1.09)" text-anchor="end" font-size="7.8" fill="#4a4a4a" >GRILLE)</text>
<rect x="768.9" y="709.8" width="54.8" height="41.5" fill="#e8f4fd" stroke="#6a6a6a" stroke-width="1.2" />
<path d="M771.2,647 C773.5,649.93 778.1,649.93 780.4,647" fill="none" stroke="#333333" stroke-width="1" />
<path d="M771.2,651.3 C773.5,654.23 778.1,654.23 780.4,651.3" fill="none" stroke="#333333" stroke-width="1" />
<path d="M810.6,647 C812.9,649.93 817.5,649.93 819.8,647" fill="none" stroke="#333333" stroke-width="1" />
<path d="M810.6,651.3 C812.9,654.23 817.5,654.23 819.8,651.3" fill="none" stroke="#333333" stroke-width="1" />
<path d="M775.8,709.8 L775.8,731.3 L784.7,731.3" fill="none" stroke="#5e5e5e" stroke-width="1.1" />
<path d="M815.2,709.8 L815.2,731.3 L805.7,731.3" fill="none" stroke="#5e5e5e" stroke-width="1.1" />
<path d="M784.7,731.3 L786.2,728.7 L789.2,733.9 L792.2,728.7 L795.2,733.9 L798.2,728.7 L801.2,733.9 L805.7,731.3" fill="none" stroke="#2e2e2e" stroke-width="1" />
<line x1="788.7" y1="727.7" x2="803.7" y2="736.9" stroke="#2e2e2e" stroke-width="1" />
<text transform="translate(771.61,657.5) rotate(-90) scale(1,1.09)" font-size="7.8" fill="#4a4a4a">A</text>
<text transform="translate(810.71,657.5) rotate(-90) scale(1,1.09)" font-size="7.8" fill="#4a4a4a">B</text>
<text transform="translate(773.51,703) rotate(-90) scale(1,1.09)" font-size="7.8" fill="#4a4a4a">DK GRN</text>
<text transform="translate(813.51,689.2) rotate(-90) scale(1,1.09)" font-size="7.8" fill="#4a4a4a">YEL</text>
<text transform="translate(798.1,762.31) scale(1,1.09)" text-anchor="middle" font-size="7.8" fill="#4a4a4a" >INSIDE AIR</text>
<text transform="translate(798.1,771.76) scale(1,1.09)" text-anchor="middle" font-size="7.8" fill="#4a4a4a" >TEMP</text>
<text transform="translate(798.1,781.21) scale(1,1.09)" text-anchor="middle" font-size="7.8" fill="#4a4a4a" >SENSOR</text>
<text transform="translate(798.1,790.66) scale(1,1.09)" text-anchor="middle" font-size="7.8" fill="#4a4a4a" >(NEAR LEFT</text>
<text transform="translate(798.1,800.11) scale(1,1.09)" text-anchor="middle" font-size="7.8" fill="#4a4a4a" >CENTER DASH</text>
<text transform="translate(798.1,809.56) scale(1,1.09)" text-anchor="middle" font-size="7.8" fill="#4a4a4a" >PANEL)</text>
<rect x="211.7" y="684.4" width="98.4" height="90" fill="#e8f4fd" stroke="#6a6a6a" stroke-width="1.3" />
<path d="M220.5,681.8 C222.8,679.13 227.4,679.13 229.7,681.8" fill="none" stroke="#333333" stroke-width="1" />
<path d="M221.5,688.9 L225.1,685.2 L228.7,688.9" fill="none" stroke="#5e5e5e" stroke-width="1" />
<text transform="translate(222.71,663.6) rotate(-90) scale(1,1.09)" font-size="7.8" fill="#4a4a4a">BRN</text>
<text transform="translate(222.91,678.7) rotate(-90) scale(1,1.09)" font-size="7.8" fill="#4a4a4a">5</text>
<path d="M233.6,681.8 C235.9,679.13 240.5,679.13 242.8,681.8" fill="none" stroke="#333333" stroke-width="1" />
<path d="M234.6,688.9 L238.2,685.2 L241.8,688.9" fill="none" stroke="#5e5e5e" stroke-width="1" />
<text transform="translate(235.81,663.6) rotate(-90) scale(1,1.09)" font-size="7.8" fill="#4a4a4a">DK GRN</text>
<text transform="translate(236.01,678.7) rotate(-90) scale(1,1.09)" font-size="7.8" fill="#4a4a4a">6</text>
<path d="M246.5,681.8 C248.8,679.13 253.4,679.13 255.7,681.8" fill="none" stroke="#333333" stroke-width="1" />
<path d="M247.5,688.9 L251.1,685.2 L254.7,688.9" fill="none" stroke="#5e5e5e" stroke-width="1" />
<text transform="translate(248.71,663.6) rotate(-90) scale(1,1.09)" font-size="7.8" fill="#4a4a4a">YEL</text>
<text transform="translate(248.91,678.7) rotate(-90) scale(1,1.09)" font-size="7.8" fill="#4a4a4a">7</text>
<path d="M273,681.8 C275.3,679.13 279.9,679.13 282.2,681.8" fill="none" stroke="#333333" stroke-width="1" />
<path d="M274,688.9 L277.6,685.2 L281.2,688.9" fill="none" stroke="#5e5e5e" stroke-width="1" />
<text transform="translate(275.21,663.6) rotate(-90) scale(1,1.09)" font-size="7.8" fill="#4a4a4a">GRY</text>
<text transform="translate(275.41,678.7) rotate(-90) scale(1,1.09)" font-size="7.8" fill="#4a4a4a">10</text>
<path d="M299.2,681.8 C301.5,679.13 306.1,679.13 308.4,681.8" fill="none" stroke="#333333" stroke-width="1" />
<path d="M300.2,688.9 L303.8,685.2 L307.4,688.9" fill="none" stroke="#5e5e5e" stroke-width="1" />
<text transform="translate(301.41,663.6) rotate(-90) scale(1,1.09)" font-size="7.8" fill="#4a4a4a">PPL</text>
<text transform="translate(301.61,678.7) rotate(-90) scale(1,1.09)" font-size="7.8" fill="#4a4a4a">9</text>
<line x1="225.1" y1="685.2" x2="225.1" y2="729.4" stroke="#5e5e5e" stroke-width="1.1" />
<line x1="238.2" y1="685.2" x2="238.2" y2="729.4" stroke="#5e5e5e" stroke-width="1.1" />
<line x1="251.1" y1="685.2" x2="251.1" y2="729.4" stroke="#5e5e5e" stroke-width="1.1" />
<line x1="277.6" y1="685.2" x2="277.6" y2="696.2" stroke="#5e5e5e" stroke-width="1.1" />
<path d="M277.6,696.2 L280.2,697.73 L275,700.79 L280.2,703.84 L275,706.9 L280.2,709.96 L275,713.01 L277.6,717.6" fill="none" stroke="#2e2e2e" stroke-width="1" />
<path d="M277.6,717.6 L277.6,722.6 L251.1,722.6" fill="none" stroke="#5e5e5e" stroke-width="1.1" />
<path d="M303.8,685.2 L303.8,706.0 L283.6,706.0" fill="none" stroke="#5e5e5e" stroke-width="1.1" />
<path d="M281,706 L284.8,703.5 L284.8,708.5 Z" fill="#111" stroke="#111" stroke-width="0.4" />
<circle cx="251.1" cy="722.6" r="2.2" fill="#000"/>
<circle cx="303.8" cy="706" r="2.2" fill="#000"/>
<rect x="218.3" y="729.5" width="39" height="19.9" fill="#e8f4fd" stroke="#6a6a6a" stroke-width="1.2" />
<text transform="translate(237.1,738.11) scale(1,1.09)" text-anchor="middle" font-size="7.8" fill="#4a4a4a" >SOLID</text>
<text transform="translate(237.1,748.01) scale(1,1.09)" text-anchor="middle" font-size="7.8" fill="#4a4a4a" >STATE</text>
<path d="M222.5,749.4 L222.5,763.6 L226.6,763.6" fill="none" stroke="#5e5e5e" stroke-width="1.1" />
<path d="M253.2,749.4 L253.2,763.6 L248.6,763.6" fill="none" stroke="#5e5e5e" stroke-width="1.1" />
<rect x="226.6" y="759.4" width="4" height="8.2" fill="#f4f9fd" stroke="#555" stroke-width="0.9" />
<rect x="244.6" y="759.4" width="4" height="8.2" fill="#f4f9fd" stroke="#555" stroke-width="0.9" />
<circle cx="237.5" cy="763.4" r="7.1" fill="#f4f9fd" stroke="#888" stroke-width="0.8"/>
<text transform="translate(237.5,767.06) scale(1,1.09)" text-anchor="middle" font-size="9.2" fill="#444" >M</text>
<text transform="translate(248.4,784.21) scale(1,1.09)" text-anchor="middle" font-size="7.8" fill="#4a4a4a" >AIR INLET</text>
<text transform="translate(248.4,793.81) scale(1,1.09)" text-anchor="middle" font-size="7.8" fill="#4a4a4a" >ACTUATOR</text>
<text transform="translate(248.4,803.41) scale(1,1.09)" text-anchor="middle" font-size="7.8" fill="#4a4a4a" >(UNDER RIGHT SIDE OF DASH,</text>
<text transform="translate(248.4,813.01) scale(1,1.09)" text-anchor="middle" font-size="7.8" fill="#4a4a4a" >RIGHT OF BLOWER MOTOR)</text>
<rect x="347.3" y="684.4" width="107" height="90" fill="#e8f4fd" stroke="#6a6a6a" stroke-width="1.3" />
<path d="M364.4,681.8 C366.7,679.13 371.3,679.13 373.6,681.8" fill="none" stroke="#333333" stroke-width="1" />
<path d="M365.4,688.9 L369,685.2 L372.6,688.9" fill="none" stroke="#5e5e5e" stroke-width="1" />
<text transform="translate(366.61,663.6) rotate(-90) scale(1,1.09)" font-size="7.8" fill="#4a4a4a">BRN</text>
<text transform="translate(366.81,678.7) rotate(-90) scale(1,1.09)" font-size="7.8" fill="#4a4a4a">5</text>
<path d="M377.9,681.8 C380.2,679.13 384.8,679.13 387.1,681.8" fill="none" stroke="#333333" stroke-width="1" />
<path d="M378.9,688.9 L382.5,685.2 L386.1,688.9" fill="none" stroke="#5e5e5e" stroke-width="1" />
<text transform="translate(380.11,663.6) rotate(-90) scale(1,1.09)" font-size="7.8" fill="#4a4a4a">DK BLU</text>
<text transform="translate(380.31,678.7) rotate(-90) scale(1,1.09)" font-size="7.8" fill="#4a4a4a">6</text>
<path d="M391,681.8 C393.3,679.13 397.9,679.13 400.2,681.8" fill="none" stroke="#333333" stroke-width="1" />
<path d="M392,688.9 L395.6,685.2 L399.2,688.9" fill="none" stroke="#5e5e5e" stroke-width="1" />
<text transform="translate(393.21,663.6) rotate(-90) scale(1,1.09)" font-size="7.8" fill="#4a4a4a">YEL</text>
<text transform="translate(393.41,678.7) rotate(-90) scale(1,1.09)" font-size="7.8" fill="#4a4a4a">7</text>
<path d="M417.3,681.8 C419.6,679.13 424.2,679.13 426.5,681.8" fill="none" stroke="#333333" stroke-width="1" />
<path d="M418.3,688.9 L421.9,685.2 L425.5,688.9" fill="none" stroke="#5e5e5e" stroke-width="1" />
<text transform="translate(419.51,663.6) rotate(-90) scale(1,1.09)" font-size="7.8" fill="#4a4a4a">GRY</text>
<text transform="translate(419.71,678.7) rotate(-90) scale(1,1.09)" font-size="7.8" fill="#4a4a4a">10</text>
<path d="M443.4,681.8 C445.7,679.13 450.3,679.13 452.6,681.8" fill="none" stroke="#333333" stroke-width="1" />
<path d="M444.4,688.9 L448,685.2 L451.6,688.9" fill="none" stroke="#5e5e5e" stroke-width="1" />
<text transform="translate(445.61,663.6) rotate(-90) scale(1,1.09)" font-size="7.8" fill="#4a4a4a">LT BLU</text>
<text transform="translate(445.81,678.7) rotate(-90) scale(1,1.09)" font-size="7.8" fill="#4a4a4a">9</text>
<line x1="369" y1="685.2" x2="369" y2="729.4" stroke="#5e5e5e" stroke-width="1.1" />
<line x1="382.5" y1="685.2" x2="382.5" y2="729.4" stroke="#5e5e5e" stroke-width="1.1" />
<line x1="395.6" y1="685.2" x2="395.6" y2="729.4" stroke="#5e5e5e" stroke-width="1.1" />
<line x1="421.9" y1="685.2" x2="421.9" y2="696.2" stroke="#5e5e5e" stroke-width="1.1" />
<path d="M421.9,696.2 L424.5,697.73 L419.3,700.79 L424.5,703.84 L419.3,706.9 L424.5,709.96 L419.3,713.01 L421.9,717.6" fill="none" stroke="#2e2e2e" stroke-width="1" />
<path d="M421.9,717.6 L421.9,722.6 L395.6,722.6" fill="none" stroke="#5e5e5e" stroke-width="1.1" />
<path d="M448,685.2 L448,706.0 L427.9,706.0" fill="none" stroke="#5e5e5e" stroke-width="1.1" />
<path d="M425.3,706 L429.1,703.5 L429.1,708.5 Z" fill="#111" stroke="#111" stroke-width="0.4" />
<circle cx="395.6" cy="722.6" r="2.2" fill="#000"/>
<circle cx="448" cy="706" r="2.2" fill="#000"/>
<rect x="362.2" y="729.5" width="39" height="19.9" fill="#e8f4fd" stroke="#6a6a6a" stroke-width="1.2" />
<text transform="translate(381,738.11) scale(1,1.09)" text-anchor="middle" font-size="7.8" fill="#4a4a4a" >SOLID</text>
<text transform="translate(381,748.01) scale(1,1.09)" text-anchor="middle" font-size="7.8" fill="#4a4a4a" >STATE</text>
<path d="M366.4,749.4 L366.4,763.6 L370.5,763.6" fill="none" stroke="#5e5e5e" stroke-width="1.1" />
<path d="M397.1,749.4 L397.1,763.6 L392.5,763.6" fill="none" stroke="#5e5e5e" stroke-width="1.1" />
<rect x="370.5" y="759.4" width="4" height="8.2" fill="#f4f9fd" stroke="#555" stroke-width="0.9" />
<rect x="388.5" y="759.4" width="4" height="8.2" fill="#f4f9fd" stroke="#555" stroke-width="0.9" />
<circle cx="381.4" cy="763.4" r="7.1" fill="#f4f9fd" stroke="#888" stroke-width="0.8"/>
<text transform="translate(381.4,767.06) scale(1,1.09)" text-anchor="middle" font-size="9.2" fill="#444" >M</text>
<text transform="translate(393.3,784.21) scale(1,1.09)" text-anchor="middle" font-size="7.8" fill="#4a4a4a" >DRIVER AIR</text>
<text transform="translate(393.3,793.81) scale(1,1.09)" text-anchor="middle" font-size="7.8" fill="#4a4a4a" >MIX ACTUATOR</text>
<text transform="translate(393.3,803.41) scale(1,1.09)" text-anchor="middle" font-size="7.8" fill="#4a4a4a" >(ON LEFT SIDE</text>
<text transform="translate(393.3,813.01) scale(1,1.09)" text-anchor="middle" font-size="7.8" fill="#4a4a4a" >OF HVAC MODULE)</text>
<rect x="491.4" y="684.4" width="107.1" height="90" fill="#e8f4fd" stroke="#6a6a6a" stroke-width="1.3" />
<path d="M509,681.8 C511.3,679.13 515.9,679.13 518.2,681.8" fill="none" stroke="#333333" stroke-width="1" />
<path d="M510,688.9 L513.6,685.2 L517.2,688.9" fill="none" stroke="#5e5e5e" stroke-width="1" />
<text transform="translate(511.21,663.6) rotate(-90) scale(1,1.09)" font-size="7.8" fill="#4a4a4a">BRN</text>
<text transform="translate(511.41,678.7) rotate(-90) scale(1,1.09)" font-size="7.8" fill="#4a4a4a">5</text>
<path d="M522.6,681.8 C524.9,679.13 529.5,679.13 531.8,681.8" fill="none" stroke="#333333" stroke-width="1" />
<path d="M523.6,688.9 L527.2,685.2 L530.8,688.9" fill="none" stroke="#5e5e5e" stroke-width="1" />
<text transform="translate(524.81,663.6) rotate(-90) scale(1,1.09)" font-size="7.8" fill="#4a4a4a">WHT/BLK</text>
<text transform="translate(525.01,678.7) rotate(-90) scale(1,1.09)" font-size="7.8" fill="#4a4a4a">6</text>
<path d="M535.1,681.8 C537.4,679.13 542,679.13 544.3,681.8" fill="none" stroke="#333333" stroke-width="1" />
<path d="M536.1,688.9 L539.7,685.2 L543.3,688.9" fill="none" stroke="#5e5e5e" stroke-width="1" />
<text transform="translate(537.31,663.6) rotate(-90) scale(1,1.09)" font-size="7.8" fill="#4a4a4a">YEL</text>
<text transform="translate(537.51,678.7) rotate(-90) scale(1,1.09)" font-size="7.8" fill="#4a4a4a">7</text>
<path d="M561.7,681.8 C564,679.13 568.6,679.13 570.9,681.8" fill="none" stroke="#333333" stroke-width="1" />
<path d="M562.7,688.9 L566.3,685.2 L569.9,688.9" fill="none" stroke="#5e5e5e" stroke-width="1" />
<text transform="translate(563.91,663.6) rotate(-90) scale(1,1.09)" font-size="7.8" fill="#4a4a4a">GRY</text>
<text transform="translate(564.11,678.7) rotate(-90) scale(1,1.09)" font-size="7.8" fill="#4a4a4a">10</text>
<path d="M587.6,681.8 C589.9,679.13 594.5,679.13 596.8,681.8" fill="none" stroke="#333333" stroke-width="1" />
<path d="M588.6,688.9 L592.2,685.2 L595.8,688.9" fill="none" stroke="#5e5e5e" stroke-width="1" />
<text transform="translate(589.81,663.6) rotate(-90) scale(1,1.09)" font-size="7.8" fill="#4a4a4a">DK BLU</text>
<text transform="translate(590.01,678.7) rotate(-90) scale(1,1.09)" font-size="7.8" fill="#4a4a4a">9</text>
<line x1="513.6" y1="685.2" x2="513.6" y2="729.4" stroke="#5e5e5e" stroke-width="1.1" />
<line x1="527.2" y1="685.2" x2="527.2" y2="729.4" stroke="#5e5e5e" stroke-width="1.1" />
<line x1="539.7" y1="685.2" x2="539.7" y2="729.4" stroke="#5e5e5e" stroke-width="1.1" />
<line x1="566.3" y1="685.2" x2="566.3" y2="696.2" stroke="#5e5e5e" stroke-width="1.1" />
<path d="M566.3,696.2 L568.9,697.73 L563.7,700.79 L568.9,703.84 L563.7,706.9 L568.9,709.96 L563.7,713.01 L566.3,717.6" fill="none" stroke="#2e2e2e" stroke-width="1" />
<path d="M566.3,717.6 L566.3,722.6 L539.7,722.6" fill="none" stroke="#5e5e5e" stroke-width="1.1" />
<path d="M592.2,685.2 L592.2,706.0 L572.3,706.0" fill="none" stroke="#5e5e5e" stroke-width="1.1" />
<path d="M569.7,706 L573.5,703.5 L573.5,708.5 Z" fill="#111" stroke="#111" stroke-width="0.4" />
<circle cx="539.7" cy="722.6" r="2.2" fill="#000"/>
<circle cx="592.2" cy="706" r="2.2" fill="#000"/>
<rect x="506.8" y="729.5" width="39" height="19.9" fill="#e8f4fd" stroke="#6a6a6a" stroke-width="1.2" />
<text transform="translate(525.6,738.11) scale(1,1.09)" text-anchor="middle" font-size="7.8" fill="#4a4a4a" >SOLID</text>
<text transform="translate(525.6,748.01) scale(1,1.09)" text-anchor="middle" font-size="7.8" fill="#4a4a4a" >STATE</text>
<path d="M511,749.4 L511,763.6 L515.1,763.6" fill="none" stroke="#5e5e5e" stroke-width="1.1" />
<path d="M541.7,749.4 L541.7,763.6 L537.1,763.6" fill="none" stroke="#5e5e5e" stroke-width="1.1" />
<rect x="515.1" y="759.4" width="4" height="8.2" fill="#f4f9fd" stroke="#555" stroke-width="0.9" />
<rect x="533.1" y="759.4" width="4" height="8.2" fill="#f4f9fd" stroke="#555" stroke-width="0.9" />
<circle cx="526" cy="763.4" r="7.1" fill="#f4f9fd" stroke="#888" stroke-width="0.8"/>
<text transform="translate(526,767.06) scale(1,1.09)" text-anchor="middle" font-size="9.2" fill="#444" >M</text>
<text transform="translate(537.6,784.21) scale(1,1.09)" text-anchor="middle" font-size="7.8" fill="#4a4a4a" >PASSENGER AIR</text>
<text transform="translate(539.8,793.81) scale(1,1.09)" text-anchor="middle" font-size="7.8" fill="#4a4a4a" >MIX ACTUATOR</text>
<text transform="translate(539.8,803.41) scale(1,1.09)" text-anchor="middle" font-size="7.8" fill="#4a4a4a" >(UNDER RIGHT SIDE</text>
<text transform="translate(539.8,813.01) scale(1,1.09)" text-anchor="middle" font-size="7.8" fill="#4a4a4a" >OF DASH, ON RIGHT</text>
<text transform="translate(539.8,822.61) scale(1,1.09)" text-anchor="middle" font-size="7.8" fill="#4a4a4a" >SIDE OF HVAC MODULE)</text>
<rect x="635.7" y="684.4" width="106.9" height="90" fill="#e8f4fd" stroke="#6a6a6a" stroke-width="1.3" />
<path d="M653.4,681.8 C655.7,679.13 660.3,679.13 662.6,681.8" fill="none" stroke="#333333" stroke-width="1" />
<path d="M654.4,688.9 L658,685.2 L661.6,688.9" fill="none" stroke="#5e5e5e" stroke-width="1" />
<text transform="translate(655.61,663.6) rotate(-90) scale(1,1.09)" font-size="7.8" fill="#4a4a4a">BRN</text>
<text transform="translate(655.81,678.7) rotate(-90) scale(1,1.09)" font-size="7.8" fill="#4a4a4a">5</text>
<path d="M666.4,681.8 C668.7,679.13 673.3,679.13 675.6,681.8" fill="none" stroke="#333333" stroke-width="1" />
<path d="M667.4,688.9 L671,685.2 L674.6,688.9" fill="none" stroke="#5e5e5e" stroke-width="1" />
<text transform="translate(668.61,663.6) rotate(-90) scale(1,1.09)" font-size="7.8" fill="#4a4a4a">YEL</text>
<text transform="translate(668.81,678.7) rotate(-90) scale(1,1.09)" font-size="7.8" fill="#4a4a4a">6</text>
<path d="M679.3,681.8 C681.6,679.13 686.2,679.13 688.5,681.8" fill="none" stroke="#333333" stroke-width="1" />
<path d="M680.3,688.9 L683.9,685.2 L687.5,688.9" fill="none" stroke="#5e5e5e" stroke-width="1" />
<text transform="translate(681.51,663.6) rotate(-90) scale(1,1.09)" font-size="7.8" fill="#4a4a4a">YEL</text>
<text transform="translate(681.71,678.7) rotate(-90) scale(1,1.09)" font-size="7.8" fill="#4a4a4a">7</text>
<path d="M705.7,681.8 C708,679.13 712.6,679.13 714.9,681.8" fill="none" stroke="#333333" stroke-width="1" />
<path d="M706.7,688.9 L710.3,685.2 L713.9,688.9" fill="none" stroke="#5e5e5e" stroke-width="1" />
<text transform="translate(707.91,663.6) rotate(-90) scale(1,1.09)" font-size="7.8" fill="#4a4a4a">GRY</text>
<text transform="translate(708.11,678.7) rotate(-90) scale(1,1.09)" font-size="7.8" fill="#4a4a4a">10</text>
<path d="M731.7,681.8 C734,679.13 738.6,679.13 740.9,681.8" fill="none" stroke="#333333" stroke-width="1" />
<path d="M732.7,688.9 L736.3,685.2 L739.9,688.9" fill="none" stroke="#5e5e5e" stroke-width="1" />
<text transform="translate(733.91,663.6) rotate(-90) scale(1,1.09)" font-size="7.8" fill="#4a4a4a">YEL/BLK</text>
<text transform="translate(734.11,678.7) rotate(-90) scale(1,1.09)" font-size="7.8" fill="#4a4a4a">9</text>
<line x1="658" y1="685.2" x2="658" y2="729.4" stroke="#5e5e5e" stroke-width="1.1" />
<line x1="671" y1="685.2" x2="671" y2="729.4" stroke="#5e5e5e" stroke-width="1.1" />
<line x1="683.9" y1="685.2" x2="683.9" y2="729.4" stroke="#5e5e5e" stroke-width="1.1" />
<line x1="710.3" y1="685.2" x2="710.3" y2="696.2" stroke="#5e5e5e" stroke-width="1.1" />
<path d="M710.3,696.2 L712.9,697.73 L707.7,700.79 L712.9,703.84 L707.7,706.9 L712.9,709.96 L707.7,713.01 L710.3,717.6" fill="none" stroke="#2e2e2e" stroke-width="1" />
<path d="M710.3,717.6 L710.3,722.6 L683.9,722.6" fill="none" stroke="#5e5e5e" stroke-width="1.1" />
<path d="M736.3,685.2 L736.3,706.0 L716.3,706.0" fill="none" stroke="#5e5e5e" stroke-width="1.1" />
<path d="M713.7,706 L717.5,703.5 L717.5,708.5 Z" fill="#111" stroke="#111" stroke-width="0.4" />
<circle cx="683.9" cy="722.6" r="2.2" fill="#000"/>
<circle cx="736.3" cy="706" r="2.2" fill="#000"/>
<rect x="651.2" y="729.5" width="39" height="19.9" fill="#e8f4fd" stroke="#6a6a6a" stroke-width="1.2" />
<text transform="translate(670,738.11) scale(1,1.09)" text-anchor="middle" font-size="7.8" fill="#4a4a4a" >SOLID</text>
<text transform="translate(670,748.01) scale(1,1.09)" text-anchor="middle" font-size="7.8" fill="#4a4a4a" >STATE</text>
<path d="M655.4,749.4 L655.4,763.6 L659.5,763.6" fill="none" stroke="#5e5e5e" stroke-width="1.1" />
<path d="M686.1,749.4 L686.1,763.6 L681.5,763.6" fill="none" stroke="#5e5e5e" stroke-width="1.1" />
<rect x="659.5" y="759.4" width="4" height="8.2" fill="#f4f9fd" stroke="#555" stroke-width="0.9" />
<rect x="677.5" y="759.4" width="4" height="8.2" fill="#f4f9fd" stroke="#555" stroke-width="0.9" />
<circle cx="670.4" cy="763.4" r="7.1" fill="#f4f9fd" stroke="#888" stroke-width="0.8"/>
<text transform="translate(670.4,767.06) scale(1,1.09)" text-anchor="middle" font-size="9.2" fill="#444" >M</text>
<text transform="translate(684.5,784.21) scale(1,1.09)" text-anchor="middle" font-size="7.8" fill="#4a4a4a" >MODE DOOR</text>
<text transform="translate(684.5,793.81) scale(1,1.09)" text-anchor="middle" font-size="7.8" fill="#4a4a4a" >ACTUATOR</text>
<text transform="translate(684.5,803.41) scale(1,1.09)" text-anchor="middle" font-size="7.8" fill="#4a4a4a" >(UNDER LEFT SIDE</text>
<text transform="translate(684.5,813.01) scale(1,1.09)" text-anchor="middle" font-size="7.8" fill="#4a4a4a" >OF DASH, ON LEFT</text>
<text transform="translate(684.5,822.61) scale(1,1.09)" text-anchor="middle" font-size="7.8" fill="#4a4a4a" >SIDE OF HVAC MODULE)</text>
<text transform="translate(21.6,832.26) scale(1,1.09)" font-size="7.8" fill="#4a4a4a" >125137</text>
</g>
</svg>
</body></html>
